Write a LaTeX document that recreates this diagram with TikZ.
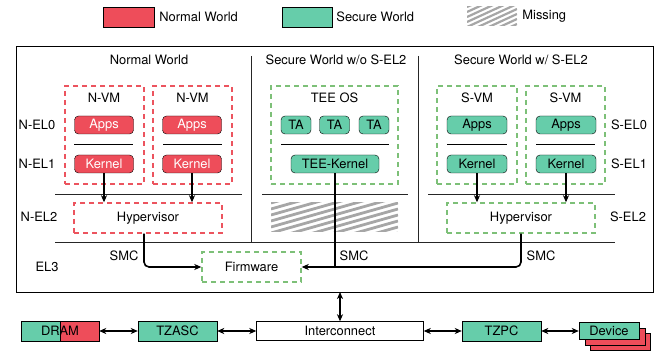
\documentclass[tikz,border=0pt]{standalone}
\usepackage{fontspec}
\setmainfont{TeX Gyre Heros}
\usetikzlibrary{positioning,arrows.meta}
\definecolor{nred}{RGB}{238,77,90}
\definecolor{sgreen}{RGB}{102,205,170}
\definecolor{nline}{RGB}{236,84,94}
\definecolor{sline}{RGB}{125,192,120}
\begin{document}
\begin{tikzpicture}[x=1pt,y=-1pt,>={Stealth[length=7pt,width=6pt,inset=2pt]},
  every node/.style={font=\fontsize{12.9}{15}\selectfont,inner sep=0pt},
  nbox/.style={draw,fill=nred,text=white,rounded corners=4pt,minimum height=18},
  sbox/.style={draw,fill=sgreen,rounded corners=4pt,minimum height=18},
  ndashed/.style={draw=nline,line width=1.4pt,dash pattern=on 5pt off 4pt},
  sdashed/.style={draw=sline,line width=1.4pt,dash pattern=on 5pt off 4pt},
  flat/.style={draw,minimum height=20},
  hatch/.style={gray!70,line width=2.8pt},
  arr/.style={->,draw=black,line width=1.6pt},
  darr/.style={<->,draw=black,line width=1.6pt}]
\useasboundingbox (0,0) rectangle (672,352);
% legend
\node[flat,fill=nred,minimum width=51](lgN) at (128.5,17){};
\node[right=5pt of lgN](lgNt){Normal World};
\node[flat,fill=sgreen,minimum width=50](lgS) at (307,17){};
\node[right=4pt of lgS](lgSt){Secure World};
\node[minimum width=50,minimum height=19](lgM) at (492,16.5){};
\begin{scope}
\clip (467,7) rectangle (517,26);
\foreach \d in {0,5,...,45} \draw[hatch,line width=2.2pt](467,7+\d)--++(50,-23);
\end{scope}
\node[right=5pt of lgM](lgMt){Missing};
% frame and levels
\draw[line width=0.8pt](16,46) rectangle (653,292);
\draw[black!85](251,56)--(251,242) (418,56)--(418,242);
\draw[black!85](55,194)--(242,194) (262,194)--(408,194) (428,194)--(615,194);
\draw[black!85](55,242)--(615,242);
\node(tN) at (149,60){Normal World};
\node(tS) at (336,60){Secure World w/o S-EL2};
\node(tSS) at (521,60){Secure World w/ S-EL2};
\node(nel0) at (37,125){N-EL0};
\node(nel1) at (37,164){N-EL1};
\node(nel2) at (39,217){N-EL2};
\node(el3) at (47,267){EL3};
\node(sel0) at (629,125){S-EL0};
\node(sel1) at (629,164){S-EL1};
\node(sel2) at (628,217){S-EL2};
% normal world
\node[ndashed,minimum width=79,minimum height=98](nvmA) at (104.5,135){};
\node[ndashed,minimum width=79,minimum height=98](nvmB) at (192.5,135){};
\node(nvmAt) at (104,98){N-VM};
\node(nvmBt) at (192.5,98){N-VM};
\node[nbox,minimum width=59](naA) at (104,125){Apps};
\node[nbox,minimum width=59](naB) at (192,125){Apps};
\draw (74,144)--(133,144) (163,144)--(222,144);
\node[nbox,minimum width=59](nkA) at (104,164){Kernel};
\node[nbox,minimum width=59](nkB) at (192,164){Kernel};
\node[ndashed,minimum width=148,minimum height=30](nhyp) at (148,218){Hypervisor};
\draw[arr](nkA.south)--(nkA.south|-nhyp.north);
\draw[arr](nkB.south)--(nkB.south|-nhyp.north);
% secure world w/o S-EL2
\node[sdashed,minimum width=127,minimum height=98](tee) at (334.5,135){};
\node(teet) at (334.5,98){TEE OS};
\node[sbox,minimum width=30](taA) at (296,125){TA};
\node[sbox,minimum width=30](taB) at (334.5,125){TA};
\node[sbox,minimum width=30](taC) at (374,125){TA};
\draw (281,144)--(389,144);
\node[sbox,minimum width=88](tk) at (335,164){TEE-Kernel};
\node[minimum width=127,minimum height=29](miss) at (334.5,217.5){};
\begin{scope}
\clip (271,203) rectangle (398,232);
\foreach \d in {0,6,...,72} \draw[hatch](271,203+\d)--++(127,-36);
\end{scope}
% secure world w/ S-EL2
\node[sdashed,minimum width=80,minimum height=98](svmA) at (477,135){};
\node[sdashed,minimum width=79,minimum height=98](svmB) at (565.5,135){};
\node(svmAt) at (477,98){S-VM};
\node(svmBt) at (565.5,98){S-VM};
\node[sbox,minimum width=60](saA) at (477,125){Apps};
\node[sbox,minimum width=60](saB) at (566,125){Apps};
\draw (447,144)--(507,144) (536,144)--(595,144);
\node[sbox,minimum width=60](skA) at (477,164){Kernel};
\node[sbox,minimum width=60](skB) at (566,164){Kernel};
\node[sdashed,minimum width=148,minimum height=30](shyp) at (521,218){Hypervisor};
\draw[arr](skA.south)--(skA.south|-shyp.north);
\draw[arr](skB.south)--(skB.south|-shyp.north);
% EL3
\node[sdashed,minimum width=99,minimum height=30](fw) at (251.5,267){Firmware};
\draw[arr,rounded corners=5pt]([xshift=-4pt]nhyp.south)|-(fw.west);
\draw[arr,rounded corners=5pt](shyp.south)|-(fw.east);
\draw[line width=1.6pt](tk.south)--(tk.south|-fw.east);
\node(smcN) at (124,256){SMC};
\node(smcT) at (354,256){SMC};
\node(smcS) at (541,256){SMC};
% bus
\node[flat,minimum width=78,path picture={
  \fill[sgreen](path picture bounding box.south west) rectangle (path picture bounding box.north);
  \fill[nred](path picture bounding box.north) rectangle (path picture bounding box.south east);
  \draw(path picture bounding box.north)--(path picture bounding box.south);}](dram) at (60,331){DRAM};
\node[flat,fill=sgreen,minimum width=79](tzasc) at (177.5,331){TZASC};
\node[flat,minimum width=167,minimum height=19](ic) at (340,331){Interconnect};
\node[flat,fill=sgreen,minimum width=79](tzpc) at (501.5,331){TZPC};
\node[flat,fill=nred,minimum width=60,minimum height=17](devC) at (620,342){};
\node[flat,fill=nred,minimum width=60,minimum height=17](devB) at (615,337){};
\node[flat,fill=sgreen,minimum width=60,minimum height=17](dev) at (609,331){Device};
\coordinate(frameS) at (340,292);
\draw[darr](frameS)--(ic.north);
\draw[darr](dram)--(tzasc);
\draw[darr](tzasc)--(ic);
\draw[darr](ic)--(tzpc);
\draw[darr](tzpc)--(dev);
\end{tikzpicture}
\end{document}
